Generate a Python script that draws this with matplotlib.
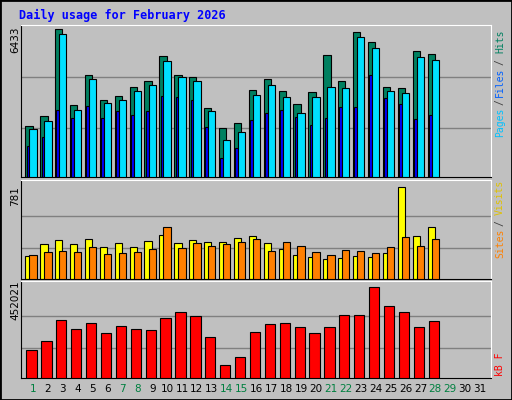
import matplotlib
matplotlib.use("Agg")
import matplotlib.pyplot as plt
from matplotlib.patches import Rectangle

days = list(range(1, 32))
# values (28 days of data)
hits_px = [316,286,28,253,166,238,226,199,184,109,166,172,262,322,307,208,178,211,250,214,106,184,37,67,199,202,94,103]
files_px = [325,301,43,268,178,247,238,211,193,124,172,184,271,358,334,223,193,229,277,229,199,202,52,85,211,217,112,121]
pages_px = [376,349,268,292,256,292,271,283,271,226,229,238,319,412,382,298,277,268,289,313,292,259,259,166,232,250,295,283]
hits = [round((468-t)*6433/440) for t in hits_px]
files = [round((468-t)*6433/440) for t in files_px]
pages = [round((468-t)*6433/440) for t in pages_px]
visits_px = [235,199,187,199,184,208,196,208,190,172,196,187,193,193,181,175,196,214,232,238,244,241,235,238,226,28,175,148]
sites_px = [232,223,220,223,208,229,226,223,214,148,211,196,205,199,193,184,220,193,205,223,232,217,220,226,208,178,205,184]
visits = [round((304-t)*781/276) for t in visits_px]
sites = [round((304-t)*781/276) for t in sites_px]
kb_px = [517,490,427,454,436,466,445,454,457,421,403,415,478,562,538,463,439,436,448,466,448,412,412,328,385,403,448,430]
kbytes = [round((601-t)*452021/273) for t in kb_px]
weekend = [1,7,8,14,15,21,22,28,29]

W, H = 512, 400
fig = plt.figure(figsize=(W/100, H/100), dpi=100)
fig.patch.set_facecolor("#C0C0C0")
fig.patches.append(Rectangle((0,0),1,1,transform=fig.transFigure,fill=False,ec="black",lw=2))
mono = "DejaVu Sans Mono"
fig.text(19/W, 1-15/H, "Daily usage for February 2026", color="#0000FF", fontsize=8.5,
         fontweight="bold", family=mono, va="center")

def mkax(top, bottom):
    ax = fig.add_axes([21/W, 1-bottom/H, (491-21)/W, (bottom-top)/H])
    ax.set_facecolor("#C0C0C0")
    ax.set_xlim(0.2, 31.75)
    ax.set_xticks([]); ax.set_yticks([])
    for s in ("left","bottom"):
        ax.spines[s].set_color("black")
    for s in ("top","right"):
        ax.spines[s].set_color("white")
    return ax

def bars(ax, vals, l, r, color, z):
    ax.bar([d + l for d in days[:len(vals)]], vals, width=r-l, align="edge",
           color=color, edgecolor="black", linewidth=0.8, zorder=z)

def grid(ax, top, fracs):
    for f in fracs:
        ax.axhline(top*f, color="#808080", lw=1, zorder=1)

def rlab(y, s, c):
    fig.text(500/W, 1-y/H, s, rotation=90, color=c, fontsize=7, family=mono,
             va="center", ha="center")

# top panel
ax1 = mkax(25, 177)
top1 = 6433*151/147
ax1.set_ylim(0, top1)
grid(ax1, top1, [0.32, 0.66])
bars(ax1, hits, -0.51, -0.02, "#008060", 2)
bars(ax1, files, -0.24, 0.25, "#00E0FF", 3)
bars(ax1, pages, -0.42, -0.24, "#0000FF", 2.5)
fig.text(15/W, 1-40/H, "6433", rotation=90, fontsize=7.5, va="center", ha="center")
rlab(122, "Pages", "#00C0FF")
rlab(102, "/", "#404040")
rlab(82, "Files", "#0060FF")
rlab(62, "/", "#404040")
rlab(41, "Hits", "#008060")

# middle panel
ax2 = mkax(180, 279)
top2 = 781*99/92
ax2.set_ylim(0, top2)
grid(ax2, top2, [0.31, 0.64])
bars(ax2, visits, -0.51, -0.02, "#FFFF00", 2)
bars(ax2, sites, -0.24, 0.25, "#FF8000", 3)
fig.text(15/W, 1-196/H, "781", rotation=90, fontsize=7.5, va="center", ha="center")
rlab(243, "Sites", "#FF8000")
rlab(223, "/", "#404040")
rlab(197, "Visits", "#E0C000")

# bottom panel
ax3 = mkax(281, 378)
top3 = 452021*97/91
ax3.set_ylim(0, top3)
grid(ax3, top3, [0.31, 0.64])
bars(ax3, kbytes, -0.44, 0.25, "#FF0000", 3)
fig.text(15/W, 1-300/H, "452021", rotation=90, fontsize=7.5, va="center", ha="center")
rlab(364, "kB F", "#FF0000")

for d in days:
    x = 33 + (d-1)*14.9
    fig.text(x/W, 1-389/H, str(d), fontsize=7.5, ha="center", va="center",
             color="#008040" if d in weekend else "black")

fig.savefig("out.png", dpi=100, facecolor=fig.get_facecolor())
